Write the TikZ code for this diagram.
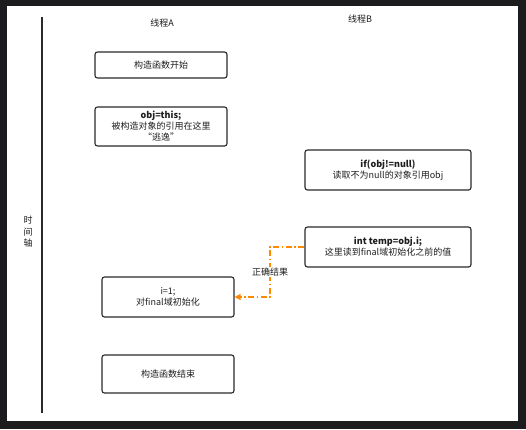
\documentclass[tikz,border=0pt]{standalone}
\usepackage{fontspec}
\setmainfont{Noto Sans CJK SC}
\newfontfamily\cjk{Noto Sans CJK SC}
\usetikzlibrary{arrows.meta}
\definecolor{frame}{HTML}{1C1C1E}
\definecolor{boxline}{HTML}{2A2A2A}
\definecolor{txt}{HTML}{1E1E1E}
\definecolor{orng}{HTML}{FF8A00}
\begin{document}
\begin{tikzpicture}[x=1pt,y=-1pt,
  stepbox/.style={draw=boxline,line width=1.1pt,rounded corners=2.5pt,fill=white,
    align=center,inner sep=0pt,font=\fontsize{9}{11}\selectfont,text=txt},
  lbl/.style={font=\fontsize{9}{11}\selectfont,text=txt,inner sep=1pt},
  flow/.style={draw=orng,line width=1.3pt,dash pattern=on 6pt off 2.5pt on 1.5pt off 2.5pt,
    -{Triangle[length=6pt,width=6pt]}}]
\useasboundingbox (0,0) rectangle (526,429);
\fill[frame] (0,0) rectangle (526,429);
\fill[white] (7,6) rectangle (518,421);
% time axis
\coordinate (ta) at (42,17);
\coordinate (tb) at (42,413);
\draw[boxline,line width=1.1pt] (ta) -- (tb);
\node[lbl,align=center,font=\fontsize{9}{11.5}\selectfont] (axis) at (28,232) {时\\间\\轴};
% titles
\node[lbl] (ta-title) at (162,23) {线程A};
\node[lbl] (tb-title) at (360,19) {线程B};
% boxes
\node[stepbox,minimum width=132pt,minimum height=26pt] (b1) at (161,65) {构造函数开始};
\node[stepbox,minimum width=132pt,minimum height=39pt] (b2) at (161,126.5) {\textbf{obj=this;}\\被构造对象的引用在这里\\“逃逸”};
\node[stepbox,minimum width=166pt,minimum height=40pt] (b3) at (388,170) {\textbf{if(obj!=null)}\\读取不为null的对象引用obj};
\node[stepbox,minimum width=166pt,minimum height=40pt] (b4) at (388,247) {\textbf{int temp=obj.i;}\\这里读到final域初始化之前的值};
\node[stepbox,minimum width=132pt,minimum height=40pt] (b5) at (168,297) {i=1;\\对final域初始化};
\node[stepbox,minimum width=132pt,minimum height=38pt] (b6) at (168,374) {构造函数结束};
% connector
\coordinate (c1) at (270,247);
\coordinate (c2) at (270,297);
\draw[flow] (b4.west) -- (c1) -- (c2) -- (b5.east);
\node[lbl,fill=white] (res) at (270,272) {正确结果};
\end{tikzpicture}
\end{document}
